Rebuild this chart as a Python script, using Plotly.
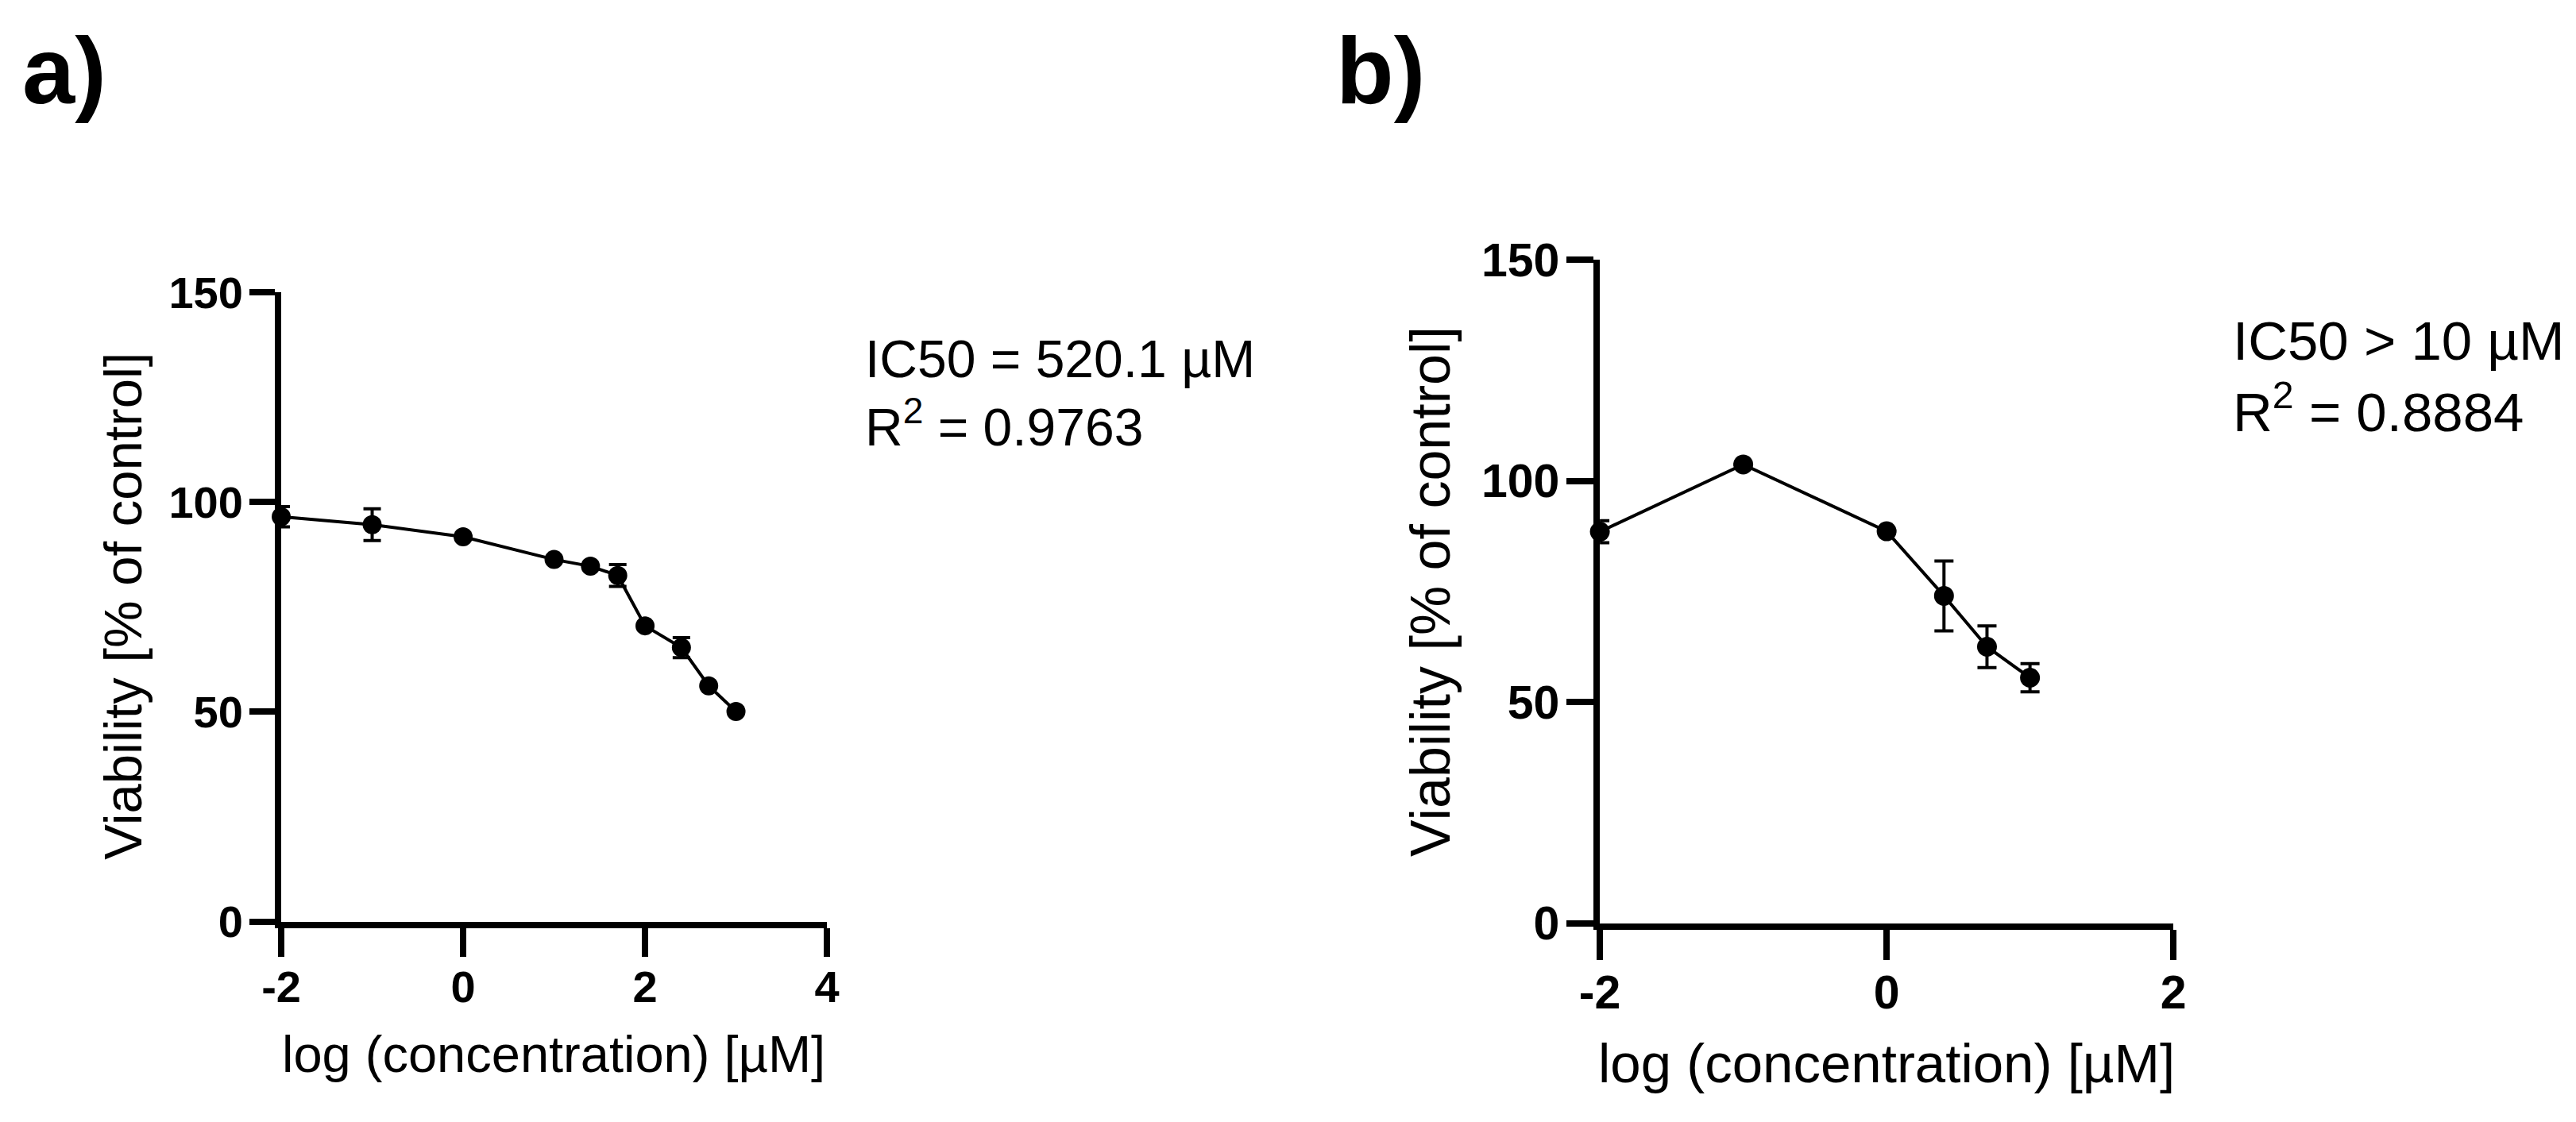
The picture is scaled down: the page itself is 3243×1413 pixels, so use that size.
import plotly.graph_objects as go

# panel a: log concentration [uM] vs viability
conc_a = [-2, -1, 0, 1, 1.4, 1.7, 2, 2.4, 2.7, 3]
viab_a = [96.5, 94.6, 91.7, 86.3, 84.7, 82.5, 70.5, 65.3, 56.2, 50.1]
sd_a = [2.4, 3.8, 0, 0, 0, 2.6, 0, 2.4, 0, 0]

# panel b
conc_b = [-2, -1, 0, 0.4, 0.7, 1]
viab_b = [88.5, 103.7, 88.6, 74.0, 62.5, 55.5]
sd_b = [2.5, 0, 0, 7.9, 4.7, 3.2]

xticks_a = [-2, 0, 2, 4]
xlabels_a = ["-2", "0", "2", "4"]
xticks_b = [-2, 0, 2]
xlabels_b = ["-2", "0", "2"]
yticks = [0, 50, 100, 150]

W, H = 3243, 1413
FONT = "Liberation Sans"

# the photographed page comes out with a white border and slightly squeezed,
# so positions (in target pixels) are mapped back to figure pixels
KX, OX = 0.987, 26
KY, OY = 0.9535, 31


def px(x):
    return ((x - OX) / KX) / W


def py(y):
    return 1 - ((y - OY) / KY) / H


fig = go.Figure()
fig.add_trace(go.Scatter(x=conc_a, y=viab_a, mode="lines+markers",
                         marker=dict(size=24, color="black"),
                         line=dict(color="black", width=4),
                         error_y=dict(type="data", array=sd_a, visible=True,
                                      color="black", thickness=4, width=11),
                         cliponaxis=False, xaxis="x", yaxis="y"))
fig.add_trace(go.Scatter(x=conc_b, y=viab_b, mode="lines+markers",
                         marker=dict(size=25, color="black"),
                         line=dict(color="black", width=4),
                         error_y=dict(type="data", array=sd_b, visible=True,
                                      color="black", thickness=4, width=12),
                         cliponaxis=False, xaxis="x2", yaxis="y2"))


def axis(s, ticklen, standoff, **kw):
    d = dict(showgrid=False, zeroline=False, showline=True, linecolor="black",
             linewidth=8 * s, ticks="outside", tickwidth=8 * s, tickcolor="black",
             ticklen=ticklen * s, tickmode="array", ticklabelstandoff=standoff,
             tickfont=dict(family=FONT, size=56 * s, color="black", weight="bold"))
    d.update(kw)
    return d


fig.update_layout(
    width=W, height=H, margin=dict(l=0, r=0, t=0, b=0),
    plot_bgcolor="white", paper_bgcolor="white", showlegend=False,
    xaxis=axis(1, 36, -10, domain=[px(354), px(1041)], range=[-2, 4],
               tickvals=xticks_a, ticktext=xlabels_a, anchor="y"),
    yaxis=axis(1, 32, -3, domain=[py(1160), py(367)], range=[0, 150],
               tickvals=yticks, anchor="x"),
    xaxis2=axis(1.054, 36, -10, domain=[px(2014), px(2736)], range=[-2, 2],
                tickvals=xticks_b, ticktext=xlabels_b, anchor="y2"),
    yaxis2=axis(1.054, 32, -3, domain=[py(1162), py(326)], range=[0, 150],
                tickvals=yticks, anchor="x2"),
)

txt = []
# panel letters
txt.append(dict(text="<b>a)</b>", x=0.0, y=py(88), xanchor="left", size=119))
txt.append(dict(text="<b>b)</b>", x=px(1680), y=py(88), xanchor="left", size=119))
# axis titles
txt.append(dict(text="log (concentration) [µM]", x=px(697), y=py(1327),
                xanchor="center", size=65))
txt.append(dict(text="Viability [% of control]", x=px(155), y=py(763),
                xanchor="center", size=67, textangle=-90))
txt.append(dict(text="log (concentration) [µM]", x=px(2375), y=py(1339),
                xanchor="center", size=69))
txt.append(dict(text="Viability [% of control]", x=px(1801), y=py(744),
                xanchor="center", size=70, textangle=-90))
# fit results
txt.append(dict(text="IC50 = 520.1 µM<br>R<sup>2</sup> = 0.9763", x=px(1087),
                y=py(494), xanchor="left", size=66))
txt.append(dict(text="IC50 > 10 µM<br>R<sup>2</sup> = 0.8884", x=px(2809),
                y=py(474), xanchor="left", size=69))

for t in txt:
    fig.add_annotation(text=t["text"], x=t["x"], y=t["y"], xref="paper", yref="paper",
                       xanchor=t["xanchor"], yanchor="middle", align="left",
                       showarrow=False, textangle=t.get("textangle", 0),
                       font=dict(family=FONT, size=t["size"], color="black"))

fig.write_html("out.html", post_script="document.body.style.margin='0';",
               config={"displayModeBar": False})
